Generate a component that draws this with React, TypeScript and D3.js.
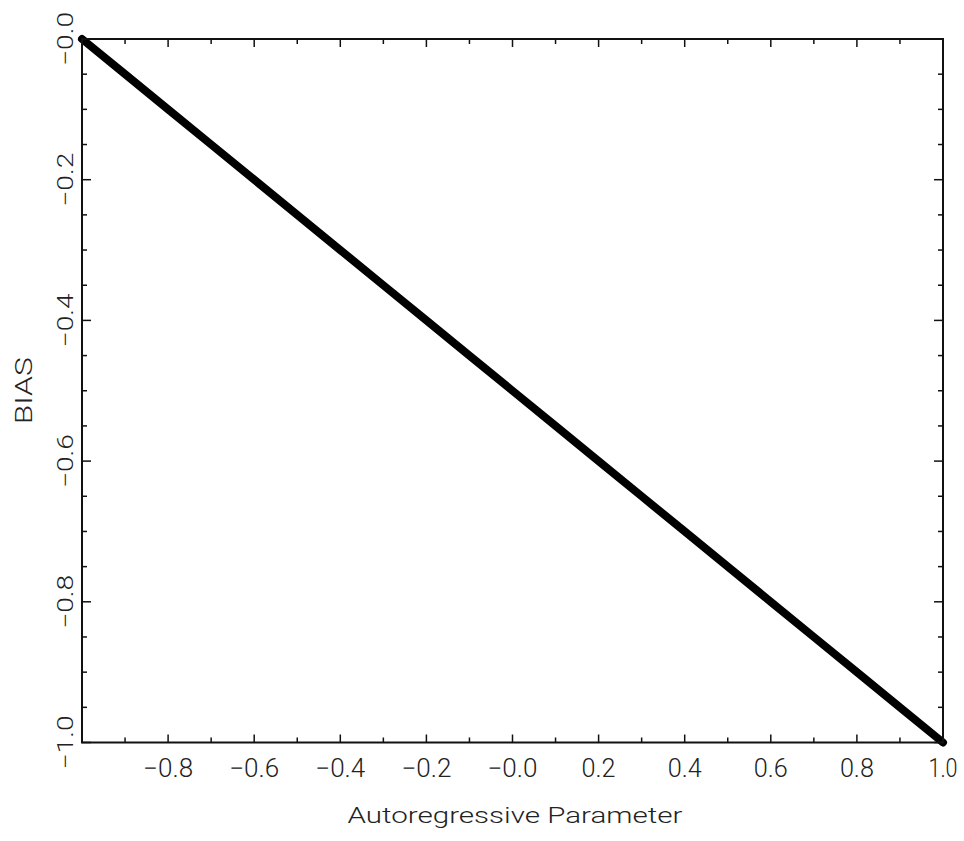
import React from "react";
import * as d3 from "d3";

const phiValues = [-1.0, -0.9, -0.8, -0.7, -0.6, -0.5, -0.4, -0.3, -0.2, -0.1, 0.0, 0.1, 0.2, 0.3, 0.4, 0.5, 0.6, 0.7, 0.8, 0.9, 1.0];
const biasValues = [0.0, -0.05, -0.1, -0.15, -0.2, -0.25, -0.3, -0.35, -0.4, -0.45, -0.5, -0.55, -0.6, -0.65, -0.7, -0.75, -0.8, -0.85, -0.9, -0.95, -1.0];
const xMajorTicks = [-0.8, -0.6, -0.4, -0.2, 0.0, 0.2, 0.4, 0.6, 0.8, 1.0];
const xTickLabels = ["\u22120.8", "\u22120.6", "\u22120.4", "\u22120.2", "\u22120.0", "0.2", "0.4", "0.6", "0.8", "1.0"];
const xMinorTicks = [-0.9, -0.7, -0.5, -0.3, -0.1, 0.1, 0.3, 0.5, 0.7, 0.9];
const yMajorTicks = [0.0, -0.2, -0.4, -0.6, -0.8, -1.0];
const yTickLabels = ["\u22120.0", "\u22120.2", "\u22120.4", "\u22120.6", "\u22120.8", "\u22121.0"];
const yMinorTicks = [-0.05, -0.1, -0.15, -0.25, -0.3, -0.35, -0.45, -0.5, -0.55, -0.65, -0.7, -0.75, -0.85, -0.9, -0.95];
const xTitle = "Autoregressive Parameter";
const yTitle = "BIAS";

export default function App() {
  const W = 964, H = 841;
  const left = 82, right = 943, top = 39, bottom = 742.5;
  const x = d3.scaleLinear().domain([-1, 1]).range([left, right]);
  const y = d3.scaleLinear().domain([-1, 0]).range([bottom, top]);
  const line = d3.line<number>().x((_, i) => x(phiValues[i])).y((d) => y(d));
  const font = "Roboto, 'Liberation Sans', Arial, sans-serif";
  const fw = 300;
  const tc = "#222";
  const labelLen = (s: string) => (s.startsWith("\u2212") ? 50 : s.startsWith("1") ? 29 : 34);
  return (
    <svg width={W} height={H} style={{ position: "absolute", left: 0, top: 0, background: "#fff" }}>
      <rect x={0} y={0} width={W} height={H} fill="#fff" />
      <path d={line(biasValues) || ""} fill="none" stroke="#000" strokeWidth={8} strokeLinecap="round" />
      <rect x={left} y={top} width={right - left} height={bottom - top} fill="none" stroke="#111" strokeWidth={2} />
      {xMajorTicks.map((v) => (
        <g key={"xM" + v}>
          <line x1={x(v)} x2={x(v)} y1={bottom} y2={bottom - 8} stroke="#111" strokeWidth={1.5} />
          <line x1={x(v)} x2={x(v)} y1={top} y2={top + 8} stroke="#111" strokeWidth={1.5} />
        </g>
      ))}
      {xMinorTicks.map((v) => (
        <g key={"xm" + v}>
          <line x1={x(v)} x2={x(v)} y1={bottom} y2={bottom - 5} stroke="#111" strokeWidth={1.5} />
          <line x1={x(v)} x2={x(v)} y1={top} y2={top + 5} stroke="#111" strokeWidth={1.5} />
        </g>
      ))}
      {yMajorTicks.map((v) => (
        <g key={"yM" + v}>
          <line x1={left} x2={left + 9} y1={y(v)} y2={y(v)} stroke="#111" strokeWidth={1.5} />
          <line x1={right} x2={right - 9} y1={y(v)} y2={y(v)} stroke="#111" strokeWidth={1.5} />
        </g>
      ))}
      {yMinorTicks.map((v) => (
        <g key={"ym" + v}>
          <line x1={left} x2={left + 5} y1={y(v)} y2={y(v)} stroke="#111" strokeWidth={1.5} />
          <line x1={right} x2={right - 5} y1={y(v)} y2={y(v)} stroke="#111" strokeWidth={1.5} />
        </g>
      ))}
      {xMajorTicks.map((v, i) => (
        <text key={"xl" + v} x={x(v)} y={777} textAnchor="middle" fontFamily={font} fontWeight={fw} fontSize={25} fill={tc} textLength={labelLen(xTickLabels[i])} lengthAdjust="spacingAndGlyphs">
          {xTickLabels[i]}
        </text>
      ))}
      {yMajorTicks.map((v, i) => (
        <text key={"yl" + v} transform={`translate(73,${y(v)}) rotate(-90)`} textAnchor="middle" fontFamily={font} fontWeight={fw} fontSize={22} fill={tc} textLength={54} lengthAdjust="spacingAndGlyphs">
          {yTickLabels[i]}
        </text>
      ))}
      <text x={515} y={823} textAnchor="middle" fontFamily={font} fontWeight={fw} fontSize={22} fill={tc} textLength={335} lengthAdjust="spacingAndGlyphs">
        {xTitle}
      </text>
      <text transform={`translate(32,${(top + bottom) / 2}) rotate(-90)`} textAnchor="middle" fontFamily={font} fontWeight={fw} fontSize={24} fill={tc} textLength={67} lengthAdjust="spacingAndGlyphs">
        {yTitle}
      </text>
    </svg>
  );
}
